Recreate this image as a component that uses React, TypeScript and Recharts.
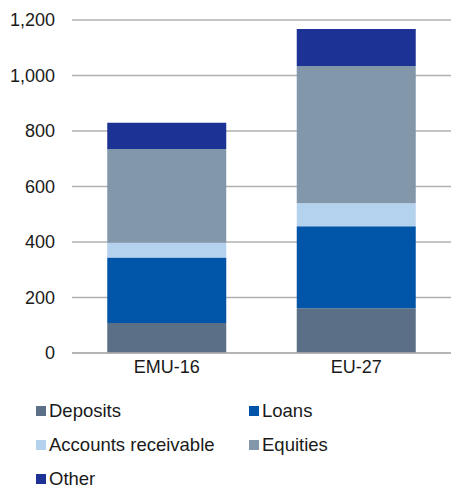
import React from 'react';
import { BarChart, Bar, XAxis, YAxis, CartesianGrid, Legend } from 'recharts';

const categories = ['EMU-16', 'EU-27'];
const deposits = [108, 161];
const loans = [236, 296];
const accountsReceivable = [53, 83];
const equities = [338, 494];
const other = [95, 134];
const yTicks = [0, 200, 400, 600, 800, 1000, 1200];

const series = [
  { key: 'deposits', name: 'Deposits', color: '#5b7086', values: deposits },
  { key: 'loans', name: 'Loans', color: '#0055a9', values: loans },
  { key: 'ar', name: 'Accounts receivable', color: '#b4d1ee', values: accountsReceivable },
  { key: 'equities', name: 'Equities', color: '#8397ab', values: equities },
  { key: 'other', name: 'Other', color: '#1c3294', values: other },
];

const data = categories.map((c, i) => {
  const row: Record<string, any> = { category: c };
  series.forEach((s) => {
    row[s.key] = s.values[i];
  });
  return row;
});

const FONT = 'Arial, "Liberation Sans", sans-serif';

const LegendContent = () => (
  <div
    style={{
      display: 'grid',
      gridTemplateColumns: '213px 180px',
      rowGap: 0,
      paddingLeft: 36,
      paddingTop: 11,
      fontFamily: FONT,
      fontSize: 18.5,
      color: '#1a1a1a',
    }}
  >
    {series.map((s) => (
      <div key={s.key} style={{ display: 'flex', alignItems: 'center', height: 34, whiteSpace: 'nowrap' }}>
        <span style={{ width: 10, height: 10, background: s.color, display: 'inline-block', marginRight: 3, flexShrink: 0 }} />
        <span>{s.name}</span>
      </div>
    ))}
  </div>
);

export default function App() {
  return (
    <div style={{ position: 'absolute', left: 0, top: 0, width: 451, height: 489, background: '#fff', overflow: 'hidden' }}>
      <BarChart
        width={451}
        height={489}
        data={data}
        margin={{ top: 20, right: 0, left: 0, bottom: 0 }}
        barCategoryGap="18.6%"
      >
        <CartesianGrid horizontal vertical={false} stroke="#b0b0b0" strokeWidth={1.5} />
        <XAxis
          dataKey="category"
          height={30}
          tickLine={false}
          axisLine={{ stroke: '#b0b0b0', strokeWidth: 1.5 }}
          tick={{ fill: '#1a1a1a', fontSize: 18, fontFamily: FONT }}
          tickMargin={1}
        />
        <YAxis
          width={72}
          domain={[0, 1200]}
          ticks={yTicks}
          interval={0}
          axisLine={false}
          tickLine={false}
          tickSize={0}
          tickMargin={17}
          tickFormatter={(v: number) => v.toLocaleString('en-US')}
          tick={{ fill: '#1a1a1a', fontSize: 18, fontFamily: FONT }}
        />
        <Legend
          verticalAlign="bottom"
          align="left"
          content={<LegendContent />}
          wrapperStyle={{ height: 106, width: 451, left: 0 }}
        />
        {series.map((s) => (
          <Bar key={s.key} dataKey={s.key} name={s.name} stackId="a" fill={s.color} isAnimationActive={false} />
        ))}
      </BarChart>
    </div>
  );
}
